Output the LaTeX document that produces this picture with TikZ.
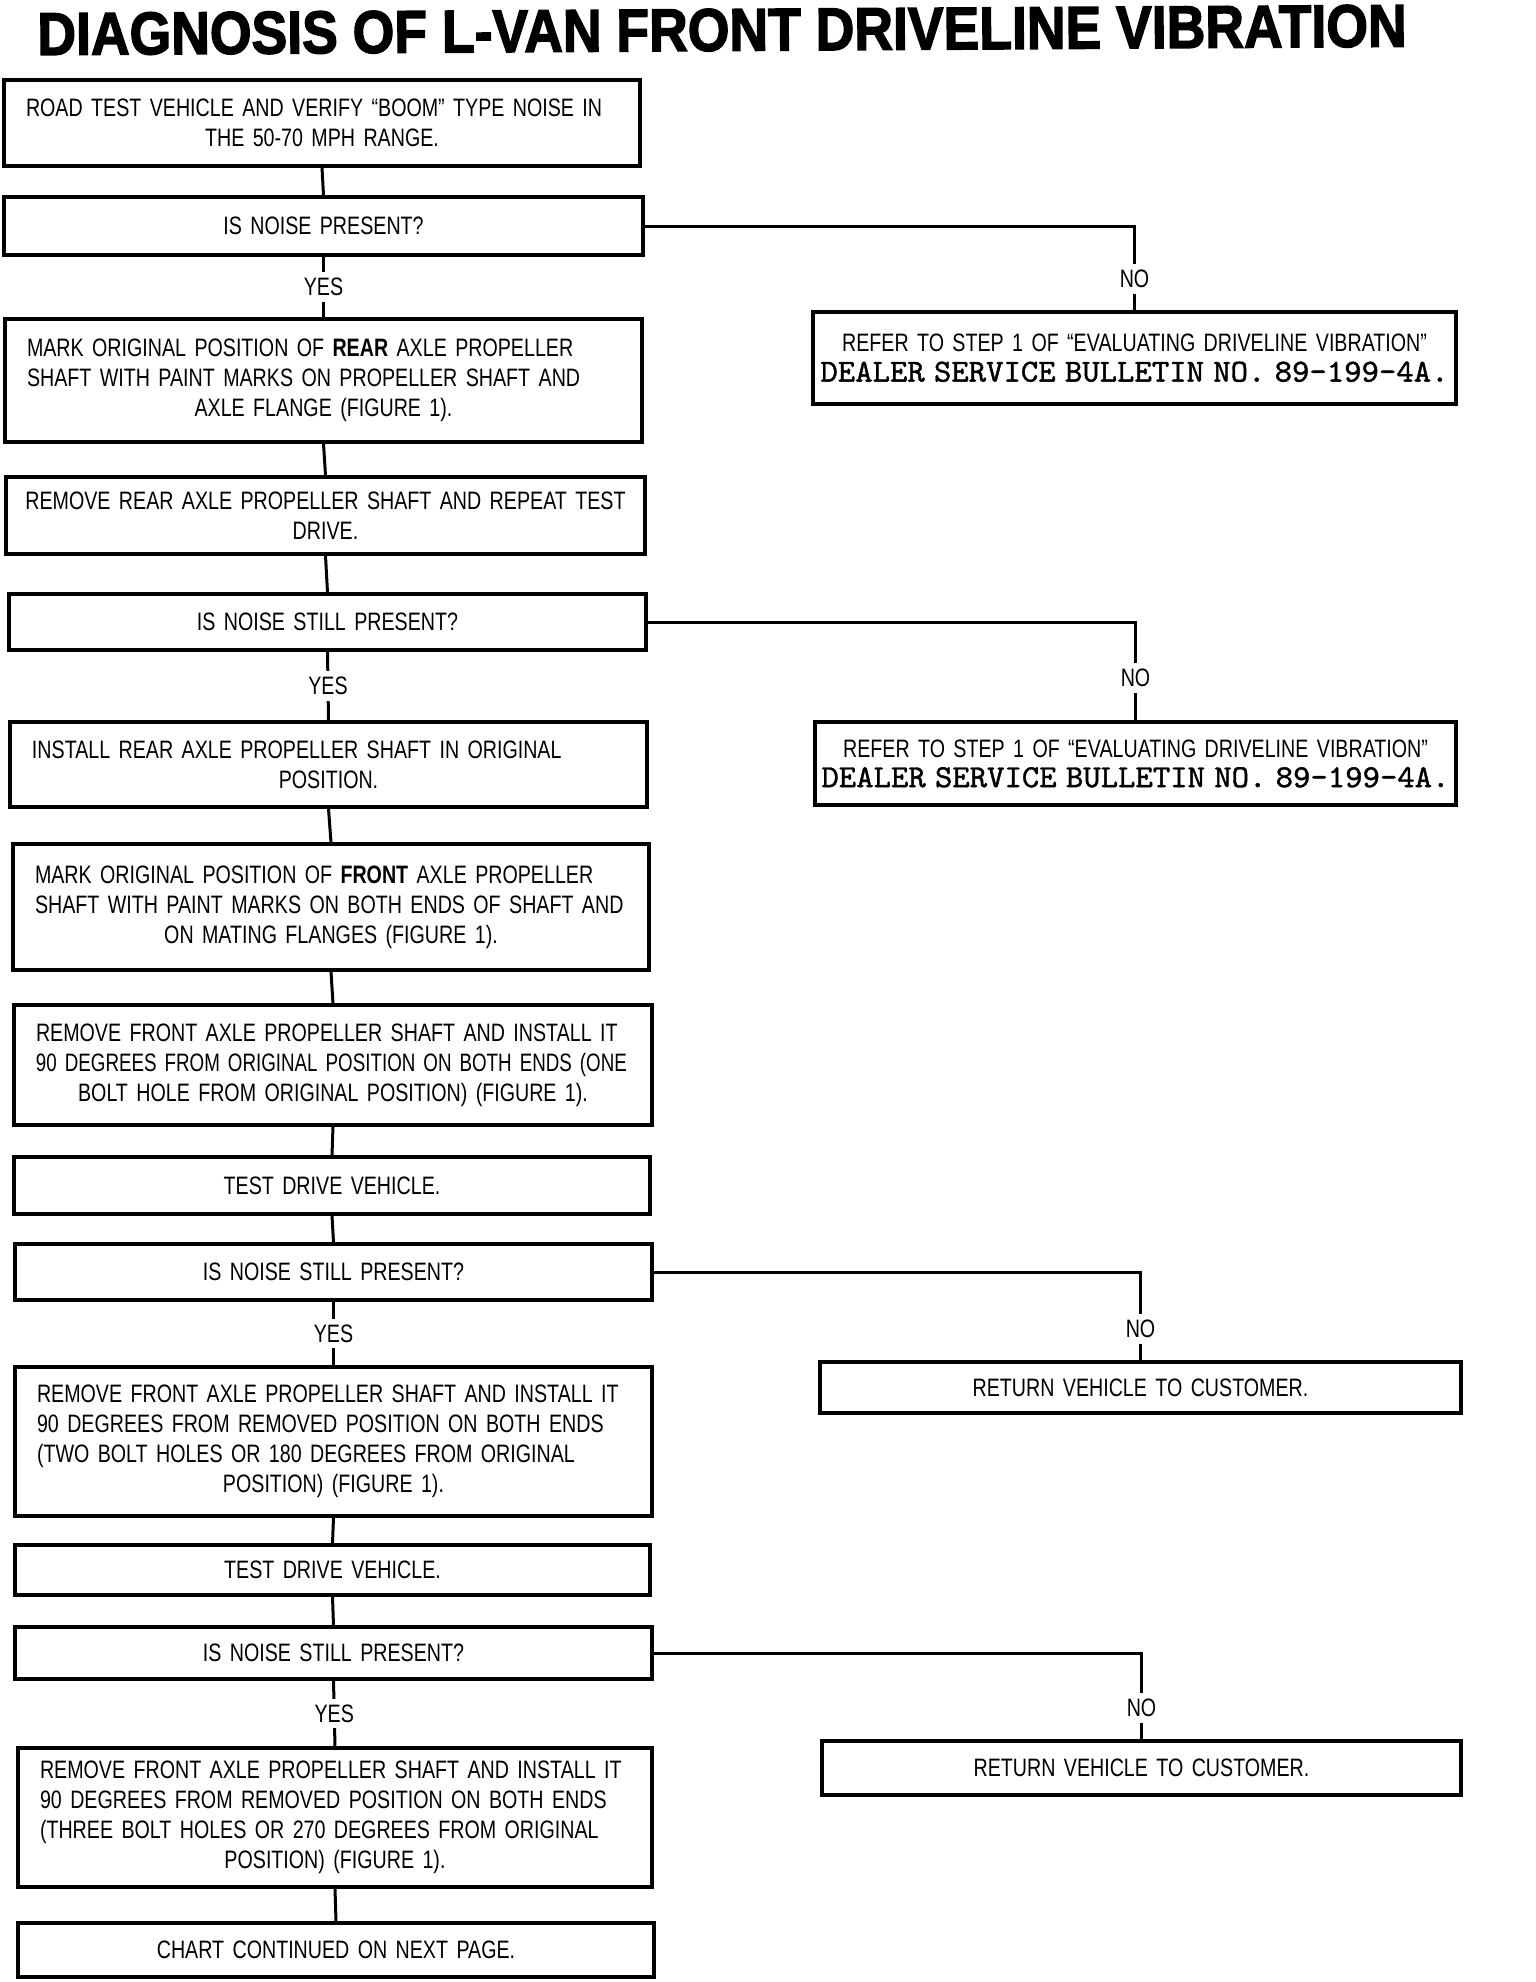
\documentclass[tikz,border=0pt]{standalone}
\usepackage{fontspec}
\usepackage{graphicx}
\usetikzlibrary{calc}
\newfontfamily\condfont[FakeStretch=0.78]{Liberation Sans}
\newfontfamily\titlefont[BoldFeatures={FakeBold=2.5}]{Liberation Sans}
\newfontfamily\monofont{lmmono10-regular}[Extension=.otf, FakeBold=1.2]
\newcommand\LL[1]{\makebox[\hsize][l]{#1}}
\newcommand\CC[1]{\makebox[\hsize][c]{#1}}
\newcommand\monoline[1]{\makebox[\hsize][c]{\resizebox{314pt}{10pt}{\monofont\fontsize{15}{18}\selectfont #1}}}
\newcommand\mkbox[6]{%
  \pgfmathsetmacro\bxw{(#3-#2)*0.5}%
  \pgfmathsetmacro\bxh{(#5-#4)*0.5}%
  \pgfmathsetmacro\bxt{(#3-#2)*0.5-22}%
  \node[stepbox, minimum width=\bxw pt, minimum height=\bxh pt, text width=\bxt pt] (#1) at ({(#2+#3)/2},{(#4+#5)/2}) {#6};}
\tikzset{
  stepbox/.style={draw, line width=1.6pt, inner xsep=11pt, inner ysep=2pt, align=center,
    font=\condfont\fontsize{12.6}{15}\selectfont},
  conn/.style={line width=1.5pt},
  lbl/.style={fill=white, inner sep=3pt, font=\condfont\fontsize{12.6}{15}\selectfont},
}
\begin{document}
\begin{tikzpicture}[x=0.5pt,y=-0.5pt]
\useasboundingbox (0,0) rectangle (1536,1982);
\fill[white] (0,0) rectangle (1536,1982);

\node[inner sep=0, rotate=0.35] (title) at (722,30)
  {\resizebox{684.5pt}{21pt}{\titlefont\bfseries DIAGNOSIS OF L-VAN FRONT DRIVELINE VIBRATION}};

\mkbox{b1}{4}{640}{80}{166}{\LL{ROAD TEST VEHICLE AND VERIFY “BOOM” TYPE NOISE IN}\\ THE 50-70 MPH RANGE.}
\mkbox{b2}{4}{643}{197}{255}{IS NOISE PRESENT?}
\mkbox{b4}{5}{642}{319}{442}{\LL{MARK ORIGINAL POSITION OF \textbf{REAR} AXLE PROPELLER}\\ \LL{SHAFT WITH PAINT MARKS ON PROPELLER SHAFT AND}\\ AXLE FLANGE (FIGURE 1).}
\mkbox{n1}{813}{1456}{312}{404}{\CC{REFER TO STEP 1 OF “EVALUATING DRIVELINE VIBRATION”}\\ \monoline{DEALER SERVICE BULLETIN NO. 89-199-4A.}}
\mkbox{b5}{6}{645}{477}{554}{\CC{REMOVE REAR AXLE PROPELLER SHAFT AND REPEAT TEST}\\ DRIVE.}
\mkbox{b6}{9}{646}{594}{650}{IS NOISE STILL PRESENT?}
\mkbox{n2}{815}{1456}{722}{805}{\CC{REFER TO STEP 1 OF “EVALUATING DRIVELINE VIBRATION”}\\ \monoline{DEALER SERVICE BULLETIN NO. 89-199-4A.}}
\mkbox{b8}{10}{647}{722}{807}{\LL{INSTALL REAR AXLE PROPELLER SHAFT IN ORIGINAL}\\ POSITION.}
\mkbox{b9}{13}{649}{844}{970}{\LL{MARK ORIGINAL POSITION OF \textbf{FRONT} AXLE PROPELLER}\\ \LL{SHAFT WITH PAINT MARKS ON BOTH ENDS OF SHAFT AND}\\ ON MATING FLANGES (FIGURE 1).}
\mkbox{b10}{14}{652}{1005}{1125}{\LL{REMOVE FRONT AXLE PROPELLER SHAFT AND INSTALL IT}\\ \LL{\scalebox{0.955}[1]{90 DEGREES FROM ORIGINAL POSITION ON BOTH ENDS (ONE}}\\ BOLT HOLE FROM ORIGINAL POSITION) (FIGURE 1).}
\mkbox{b11}{14}{650}{1157}{1214}{TEST DRIVE VEHICLE.}
\mkbox{b12}{15}{652}{1244}{1300}{IS NOISE STILL PRESENT?}
\mkbox{r1}{820}{1461}{1362}{1413}{RETURN VEHICLE TO CUSTOMER.}
\mkbox{b14}{15}{652}{1367}{1516}{\LL{REMOVE FRONT AXLE PROPELLER SHAFT AND INSTALL IT}\\ \LL{90 DEGREES FROM REMOVED POSITION ON BOTH ENDS}\\ \LL{(TWO BOLT HOLES OR 180 DEGREES FROM ORIGINAL}\\ POSITION) (FIGURE 1).}
\mkbox{b15}{15}{650}{1545}{1595}{TEST DRIVE VEHICLE.}
\mkbox{b16}{15}{652}{1627}{1679}{IS NOISE STILL PRESENT?}
\mkbox{r2}{822}{1461}{1741}{1795}{RETURN VEHICLE TO CUSTOMER.}
\mkbox{b18}{18}{652}{1748}{1887}{\LL{REMOVE FRONT AXLE PROPELLER SHAFT AND INSTALL IT}\\ \LL{90 DEGREES FROM REMOVED POSITION ON BOTH ENDS}\\ \LL{(THREE BOLT HOLES OR 270 DEGREES FROM ORIGINAL}\\ POSITION) (FIGURE 1).}
\mkbox{b19}{18}{654}{1923}{1977}{CHART CONTINUED ON NEXT PAGE.}

\draw[conn] (b1.south) -- (b2.north);
\draw[conn] (b2.south) -- (b4.north);
\draw[conn] (b2.east) -| (n1.north);
\draw[conn] (b4.south) -- (b5.north);
\draw[conn] (b5.south) -- (b6.north);
\draw[conn] (b6.south) -- (b8.north);
\draw[conn] (b6.east) -| (n2.north);
\draw[conn] (b8.south) -- (b9.north);
\draw[conn] (b9.south) -- (b10.north);
\draw[conn] (b10.south) -- (b11.north);
\draw[conn] (b11.south) -- (b12.north);
\draw[conn] (b12.south) -- (b14.north);
\draw[conn] (b12.east) -| (r1.north);
\draw[conn] (b14.south) -- (b15.north);
\draw[conn] (b15.south) -- (b16.north);
\draw[conn] (b16.south) -- (b18.north);
\draw[conn] (b16.east) -| (r2.north);
\draw[conn] (b18.south) -- (b19.north);

\node[lbl] (yes1) at ($(b2.south)!0.5!(b4.north)$) {YES};
\node[lbl] (no1) at (n1.north |- 0,279) {NO};
\node[lbl] (yes2) at ($(b6.south)!0.5!(b8.north)$) {YES};
\node[lbl] (no2) at (n2.north |- 0,678) {NO};
\node[lbl] (yes3) at ($(b12.south)!0.5!(b14.north)$) {YES};
\node[lbl] (no3) at (r1.north |- 0,1329) {NO};
\node[lbl] (yes4) at ($(b16.south)!0.5!(b18.north)$) {YES};
\node[lbl] (no4) at (r2.north |- 0,1708) {NO};
\end{tikzpicture}
\end{document}
